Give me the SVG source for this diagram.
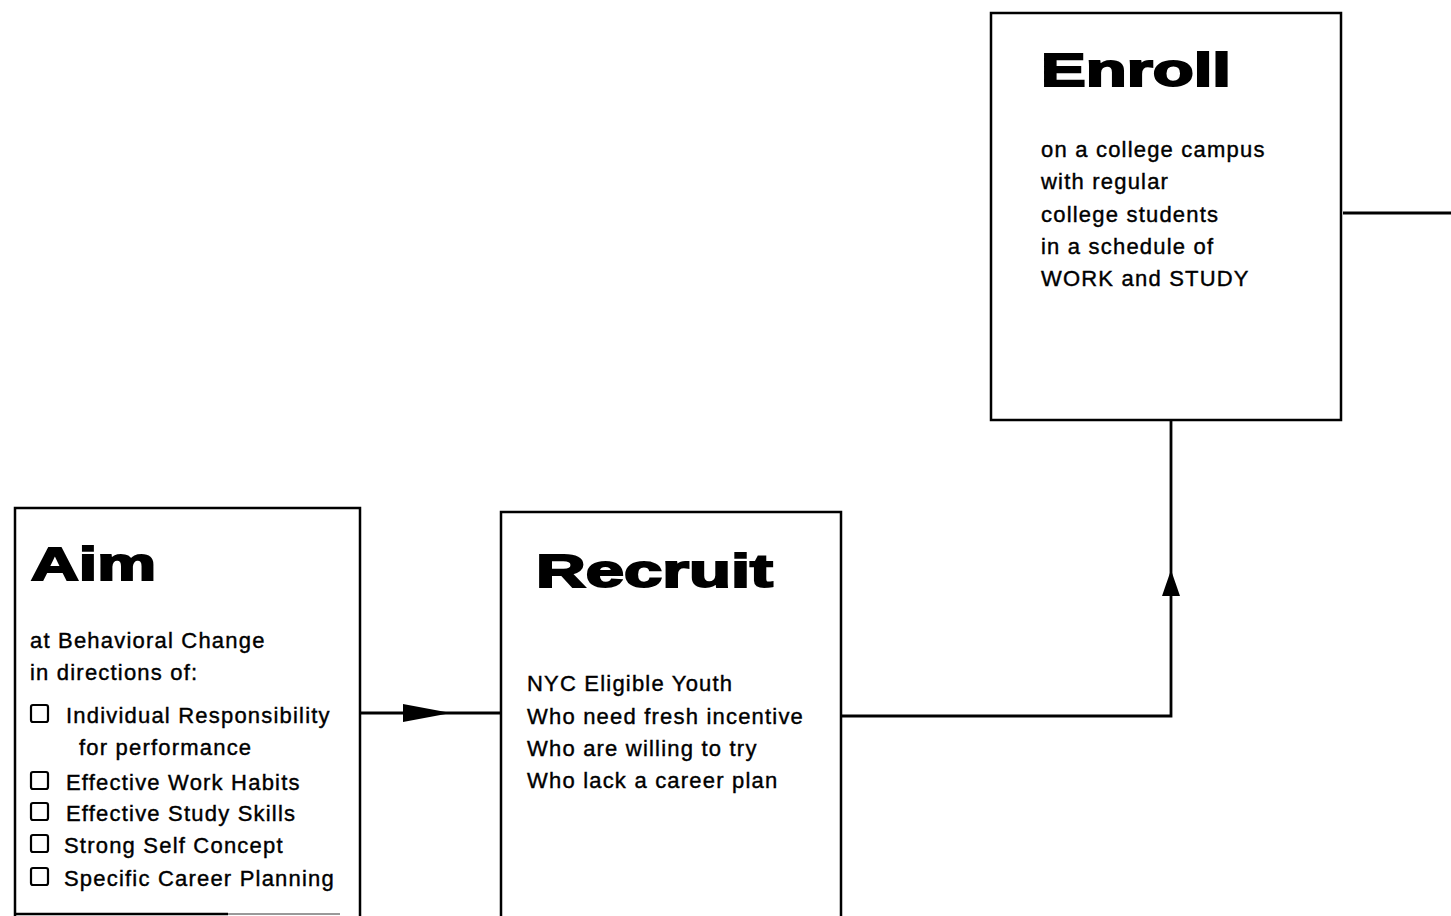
<svg xmlns="http://www.w3.org/2000/svg" width="1451" height="916" viewBox="0 0 1451 916">
<style>
  .box{fill:#fff;stroke:#000;stroke-width:2.5}
  .title{font-family:"Liberation Sans",Arial,sans-serif;font-weight:bold;font-size:46px;fill:#000;stroke:#000;stroke-width:2}
  .body{font-family:"Liberation Sans",Arial,sans-serif;font-size:22px;letter-spacing:1.2px;fill:#000;stroke:#000;stroke-width:0.4}
  .cb{fill:none;stroke:#000;stroke-width:2.2}
  .conn{fill:none;stroke:#000;stroke-width:2.8}
  .head{fill:#000;stroke:none}
</style>
<rect width="1451" height="916" fill="#fff"/>

<g id="connectors">
  <path class="conn" d="M360,713 H501"/>
  <polygon class="head" points="403,704 451,713 403,722"/>
  <path class="conn" d="M840,716 H1171 V420"/>
  <polygon class="head" points="1162,596 1171,570 1180,596"/>
  <path class="conn" d="M1343,213 H1451"/>
</g>

<g id="aim">
  <path class="box" d="M15,920 V508 H360 V920"/>
  <path d="M14,914 H228" stroke="#000" stroke-width="2.5"/>
  <path d="M228,914 H340" stroke="#999" stroke-width="2"/>
  <text class="title" x="31" y="580" textLength="125" lengthAdjust="spacingAndGlyphs">Aim</text>
  <text class="body" x="30" y="648">at Behavioral Change</text>
  <text class="body" x="30" y="680">in directions of:</text>
  <rect class="cb" x="31" y="705" width="17" height="17" rx="2"/>
  <text class="body" x="66" y="723">Individual Responsibility</text>
  <text class="body" x="79" y="755">for performance</text>
  <rect class="cb" x="31" y="772" width="17" height="17" rx="2"/>
  <text class="body" x="66" y="790">Effective Work Habits</text>
  <rect class="cb" x="31" y="803" width="17" height="17" rx="2"/>
  <text class="body" x="66" y="821">Effective Study Skills</text>
  <rect class="cb" x="31" y="835" width="17" height="17" rx="2"/>
  <text class="body" x="64" y="853">Strong Self Concept</text>
  <rect class="cb" x="31" y="868" width="17" height="17" rx="2"/>
  <text class="body" x="64" y="886">Specific Career Planning</text>
</g>

<g id="recruit">
  <path class="box" d="M501,920 V512 H841 V920"/>
  <text class="title" x="536" y="587" textLength="237" lengthAdjust="spacingAndGlyphs">Recruit</text>
  <text class="body" x="527" y="691">NYC Eligible Youth</text>
  <text class="body" x="527" y="724">Who need fresh incentive</text>
  <text class="body" x="527" y="756">Who are willing to try</text>
  <text class="body" x="527" y="788">Who lack a career plan</text>
</g>

<g id="enroll">
  <rect class="box" x="991" y="13" width="350" height="407"/>
  <text class="title" x="1041" y="86" textLength="190" lengthAdjust="spacingAndGlyphs">Enroll</text>
  <text class="body" x="1041" y="157">on a college campus</text>
  <text class="body" x="1041" y="189">with regular</text>
  <text class="body" x="1041" y="222">college students</text>
  <text class="body" x="1041" y="254">in a schedule of</text>
  <text class="body" x="1041" y="286">WORK and STUDY</text>
</g>
</svg>
